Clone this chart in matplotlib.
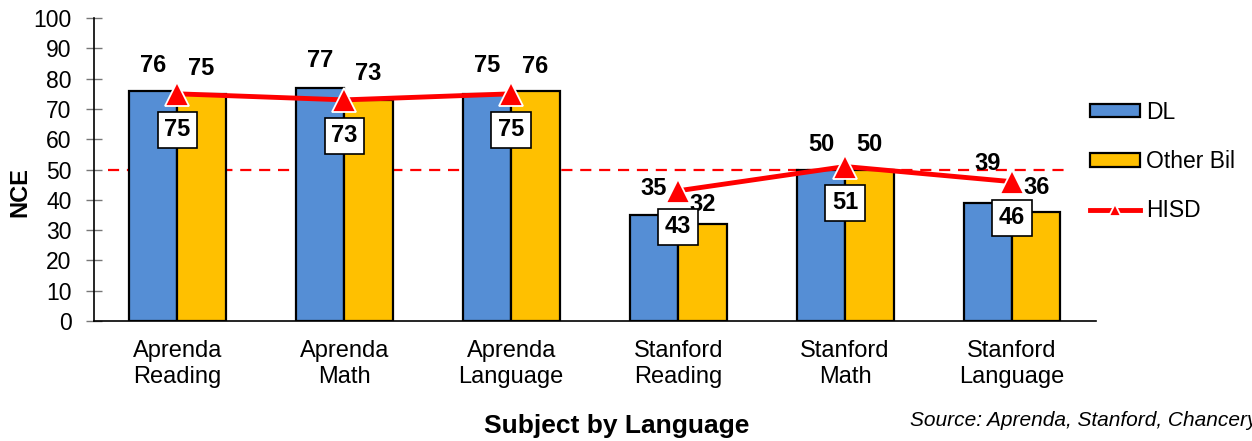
import numpy as np
import matplotlib
matplotlib.use('Agg')
from matplotlib import pyplot as plt

plt.rcParams['font.family'] = ['Liberation Sans', 'DejaVu Sans']

categories = ['Aprenda\nReading', 'Aprenda\nMath', 'Aprenda\nLanguage',
              'Stanford\nReading', 'Stanford\nMath', 'Stanford\nLanguage']
dl = [76, 77, 75, 35, 50, 39]
other_bil = [75, 73, 76, 32, 50, 36]
hisd = [75, 73, 75, 43, 51, 46]
national_mean = 50

# label nudges (points above bar top), as placed in the original
dl_dy = [10, 11, 12, 11, 10, 20]
ob_dy = [10, 11, 9, 6, 10, 9]

fig = plt.figure(figsize=(12.52, 4.41), dpi=100)
ax = fig.add_axes([0.075, 0.272, 0.80, 0.687])

x = np.arange(len(categories))
w = 0.29
b1 = ax.bar(x - w / 2, dl, w, color='#558ED5', edgecolor='black', linewidth=1.6, label='DL', zorder=2)
b2 = ax.bar(x + w / 2, other_bil, w, color='#FFC000', edgecolor='black', linewidth=1.6, label='Other Bil', zorder=2)

ax.axhline(national_mean, xmin=0.014, xmax=0.975, color='#FF0000', lw=1.6, ls=(0, (5, 3.5)), zorder=1)

# HISD line is drawn per test (Aprenda, Stanford), not joined between them
style = dict(color='#FF0000', lw=3.5, marker='^', markersize=17,
             markeredgecolor='white', markeredgewidth=1.3, zorder=4)
ln, = ax.plot(x[:3], hisd[:3], label='HISD', **style)
ax.plot(x[3:], hisd[3:], **style)

for xi, v, dy in zip(x - w / 2, dl, dl_dy):
    ax.annotate(str(v), (xi, v), xytext=(0, dy), textcoords='offset points',
                ha='center', va='bottom', fontsize=17, fontweight='bold', zorder=5)
for xi, v, dy in zip(x + w / 2, other_bil, ob_dy):
    ax.annotate(str(v), (xi, v), xytext=(0, dy), textcoords='offset points',
                ha='center', va='bottom', fontsize=17, fontweight='bold', zorder=5)
for xi, v in zip(x, hisd):
    ax.annotate(str(v), (xi, v), xytext=(0, -26), textcoords='offset points',
                ha='center', va='center', fontsize=17, fontweight='bold', zorder=6,
                bbox=dict(boxstyle='square,pad=0.28', fc='white', ec='black', lw=1.2))

ax.set_xlim(-0.5, 5.5)
ax.set_ylim(0, 100)
ax.set_yticks(range(0, 101, 10))
ax.set_xticks(x)
ax.set_xticklabels(categories, fontsize=17, linespacing=1.2)
ax.tick_params(axis='x', length=0, pad=14)
ax.tick_params(axis='y', labelsize=16.5, direction='inout', length=12, width=1, color='#777777', pad=10)
ax.spines['top'].set_visible(False)
ax.spines['right'].set_visible(False)
ax.spines['left'].set_linewidth(1.2)
ax.spines['bottom'].set_linewidth(1.2)
ax.set_ylabel('NCE', fontsize=17, fontweight='bold')
ax.yaxis.set_label_coords(-0.062, 0.426)

fig.text(617 / 1252, 1 - 426 / 441, 'Subject by Language', ha='center', va='center',
         fontsize=19, fontweight='bold')
fig.text(910 / 1252, 1 - 420 / 441, 'Source: Aprenda, Stanford, Chancery', ha='left', va='center',
         fontsize=15, style='italic')

fig.legend(handles=[b1, b2, ln], loc='upper left', bbox_to_anchor=(1069 / 1252, 1 - 80 / 441),
           frameon=False, fontsize=16.5, handlelength=2.2, handleheight=0.55,
           labelspacing=1.15, handletextpad=0.25, markerscale=0.55)

fig.savefig('out.png', dpi=100)
